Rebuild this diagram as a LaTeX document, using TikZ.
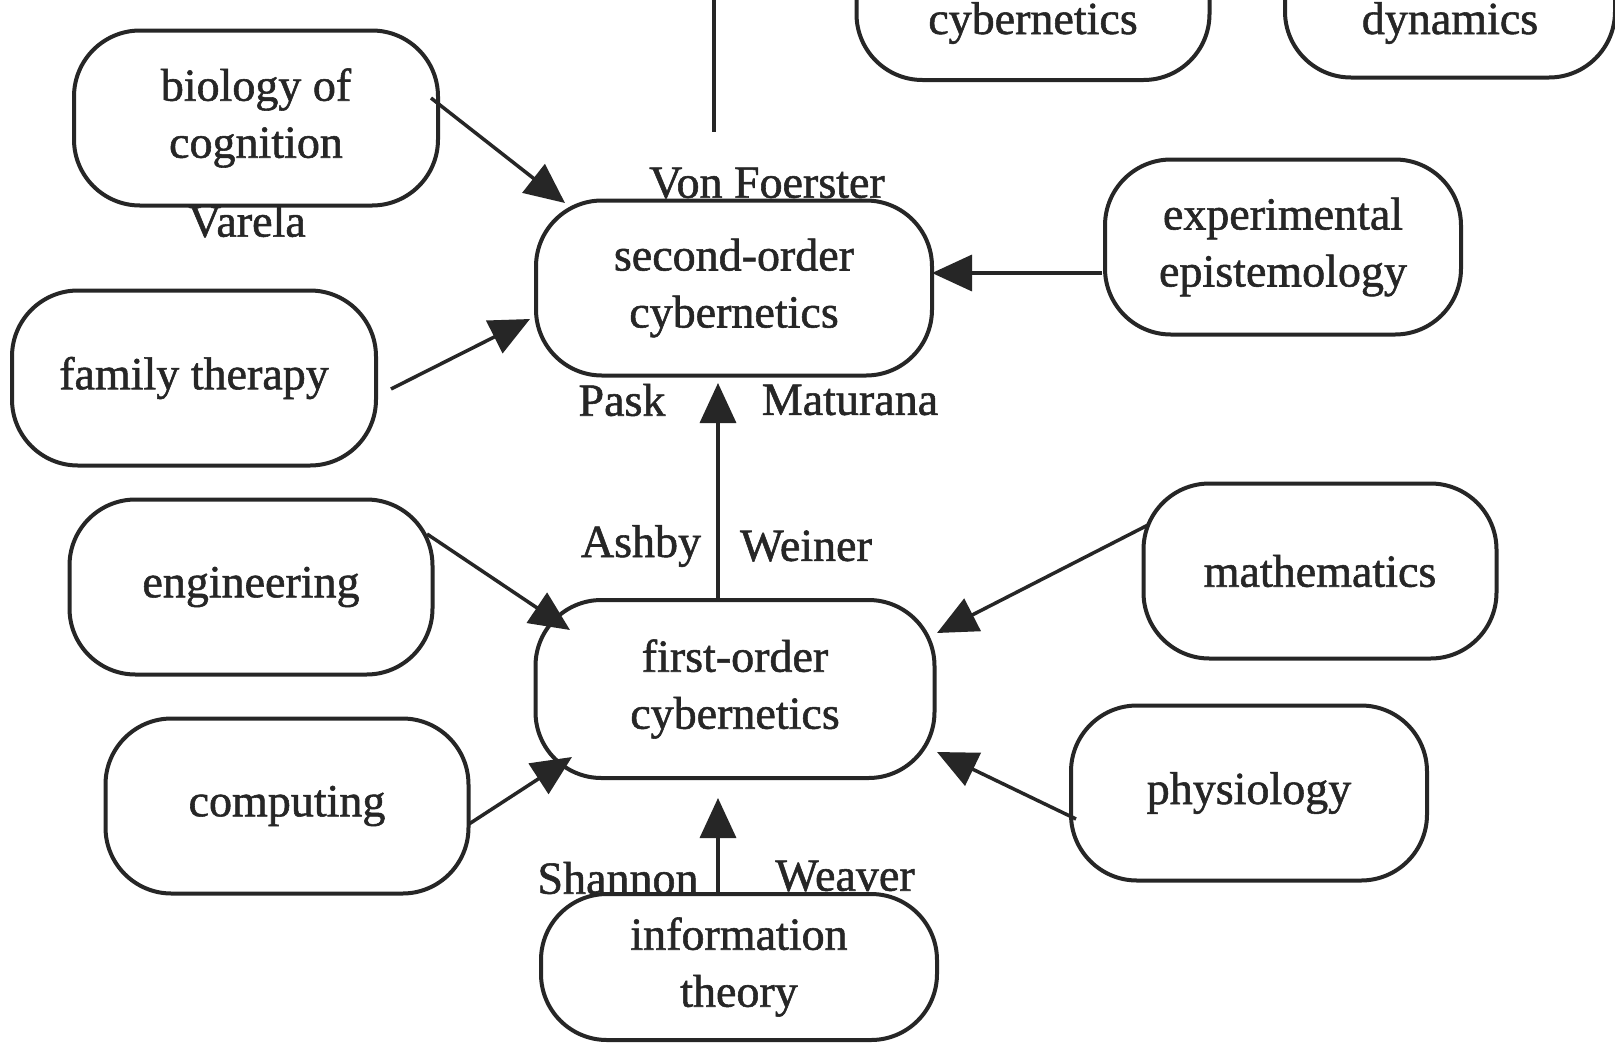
\documentclass[tikz,border=0pt]{standalone}
\usepackage{fontspec}
\setmainfont[FakeBold=1.2]{Liberation Serif}
\usetikzlibrary{arrows.meta}
\definecolor{ink}{HTML}{262626}
\begin{document}
\begin{tikzpicture}[x=1pt,y=-1pt,
  txt/.style={font=\fontsize{46}{57}\selectfont, text=ink},
  topic/.style={txt, draw=ink, line width=4pt, rounded corners=66pt,
    minimum height=175pt, align=center, inner sep=0pt},
  person/.style={txt, inner sep=0pt},
  feed/.style={draw=ink, line width=3.5pt, -{Triangle[length=40pt,width=36pt]}}]
\useasboundingbox (0,0) rectangle (1615,1045);
\clip (0,0) rectangle (1615,1045);
\fill[white] (0,0) rectangle (1615,1045);

% boxes running off the top edge
\node[topic, minimum width=353pt, text height=131pt, text depth=46pt, inner ysep=0pt, anchor=base]
  (mgmt) at (1033,34) {cybernetics};
\node[topic, minimum width=330pt, text height=131pt, text depth=43pt, inner ysep=0pt, anchor=base]
  (dyn) at (1450,34) {dynamics};
\coordinate (vtop) at (714,0);
\coordinate (vend) at (714,132);
\draw[ink, line width=3.5pt] (vtop) -- (vend);

% topics
\node[topic, minimum width=364pt] (bio) at (256,118) {biology of\\cognition};
\node[topic, minimum width=364pt] (fam) at (194,378) {family therapy};
\node[topic, minimum width=396pt] (second) at (734,288) {second-order\\cybernetics};
\node[topic, minimum width=356pt] (exp) at (1283,247) {experimental\\epistemology};
\node[topic, minimum width=363pt] (eng) at (251,587) {engineering};
\node[topic, minimum width=399pt, minimum height=178pt] (first) at (735,689) {first-order\\cybernetics};
\node[topic, minimum width=353pt] (math) at (1320,571) {mathematics};
\node[topic, minimum width=363pt] (comp) at (287,806) {computing};
\node[topic, minimum width=356pt] (phys) at (1249,793) {physiology};
\node[topic, minimum width=396pt, minimum height=146pt] (info) at (739,967) {information\\theory};

% names
\node[person] (varela) at (247,221) {Varela};
\node[person] (foerster) at (767,183) {Von Foerster};
\node[person] (pask) at (622,400) {Pask};
\node[person] (maturana) at (850,400) {Maturana};
\node[person] (ashby) at (641,546) {Ashby};
\node[person] (weiner) at (806,546) {Weiner};
\node[person] (shannon) at (618,878) {Shannon};
\node[person] (weaver) at (845,876) {Weaver};

% influences
\draw[feed] ([shift={(175,-20)}]bio.center) -- ([shift={(-169,-85)}]second.center);
\draw[feed] ([shift={(197,11)}]fam.center) -- ([shift={(-204,31)}]second.center);
\draw[feed] ([shift={(-181,26)}]exp.center) -- ([shift={(198,-15)}]second.center);
\draw[feed] ([shift={(-17,-89)}]first.center) -- ([shift={(-16,95)}]second.center);
\draw[feed] ([shift={(176,-53)}]eng.center) -- ([shift={(-165,-59)}]first.center);
\draw[feed] ([shift={(182,18)}]comp.center) -- ([shift={(-163,68)}]first.center);
\draw[feed] ([shift={(-172,-46)}]math.center) -- ([shift={(202,-56)}]first.center);
\draw[feed] ([shift={(-173,26)}]phys.center) -- ([shift={(202,63)}]first.center);
\draw[feed] ([shift={(-21,-73)}]info.center) -- ([shift={(-17,109)}]first.center);
\end{tikzpicture}
\end{document}
